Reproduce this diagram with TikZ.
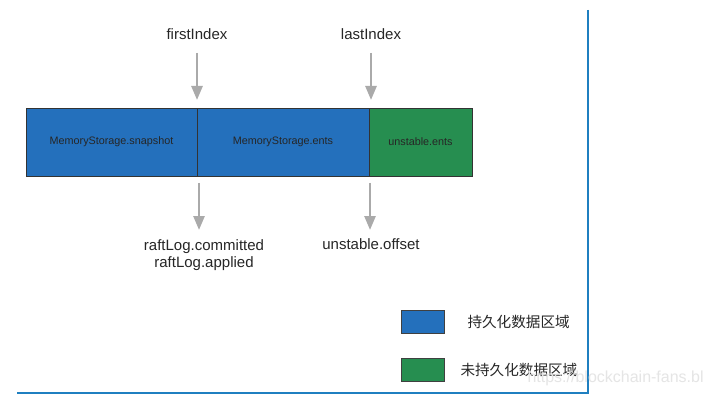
\documentclass[tikz,border=0pt]{standalone}
\usepackage{fontspec}
\setmainfont{Liberation Sans}
\newfontfamily\cjk{Noto Sans CJK SC}
\usetikzlibrary{arrows.meta}
\definecolor{pblue}{HTML}{2470BC}
\definecolor{pgreen}{HTML}{268E50}
\definecolor{frameblue}{HTML}{1F7FC0}
\definecolor{arrgray}{HTML}{AAAAAA}
\tikzset{
  seg/.style={draw=black!80, line width=0.8pt, minimum height=68pt, inner sep=0pt, font=\fontsize{10.8}{12}\selectfont, text=black!85},
  ptr/.style={draw=arrgray, line width=2.6pt, -{Triangle[length=14pt,width=11pt]}},
  lbl/.style={font=\fontsize{15}{17}\selectfont, text=black!85, align=center},
  key/.style={draw=black!75, line width=0.7pt, minimum width=43pt, minimum height=23pt, inner sep=0pt},
  keytxt/.style={font=\cjk\fontsize{14.6}{17}\selectfont, text=black!85, anchor=west}
}
\begin{document}
\begin{tikzpicture}[x=1pt,y=-1pt]
\useasboundingbox[fill=white] (0,0) rectangle (708,403);
% frame lines
\coordinate (ft) at (588,10);
\coordinate (fc) at (588,393);
\coordinate (fl) at (17,393);
\draw[frameblue, line width=1.3pt] (ft) -- (fc) -- (fl);
% segments
\node[seg, fill=pblue, minimum width=171pt] (snap) at (111.5,142) {MemoryStorage.snapshot};
\node[seg, fill=pblue, minimum width=172pt] (ents) at (283,142) {MemoryStorage.ents};
\node[seg, fill=pgreen, minimum width=103pt] (uents) at (420.5,142) {unstable.ents};
% top labels
\node[lbl] (first) at (197,34) {firstIndex};
\node[lbl] (last) at (371,34) {lastIndex};
\coordinate (firstEnd) at (197,100);
\coordinate (lastEnd) at (371,100);
\draw[ptr] (197,53) -- (firstEnd);
\draw[ptr] (371,53) -- (lastEnd);
% bottom labels
\node[lbl, inner sep=0pt] (commit) at (204,255) {raftLog.committed\\raftLog.applied};
\node[lbl] (uoff) at (371,244) {unstable.offset};
\draw[ptr] (199,183) -- (199,230);
\draw[ptr] (370,183) -- (370,230);
% legend
\node[key, fill=pblue] (k1) at (422.5,321.5) {};
\node[key, fill=pgreen] (k2) at (422.5,369.5) {};
\node[keytxt] (t1) at (464,322) {持久化数据区域};
\node[keytxt] (t2) at (457,370) {未持久化数据区域};
% watermark
\node[anchor=west, text=black!10, font=\fontsize{16}{17}\selectfont] (wm) at (524,378) {https://blockchain-fans.bl};
\end{tikzpicture}
\end{document}
